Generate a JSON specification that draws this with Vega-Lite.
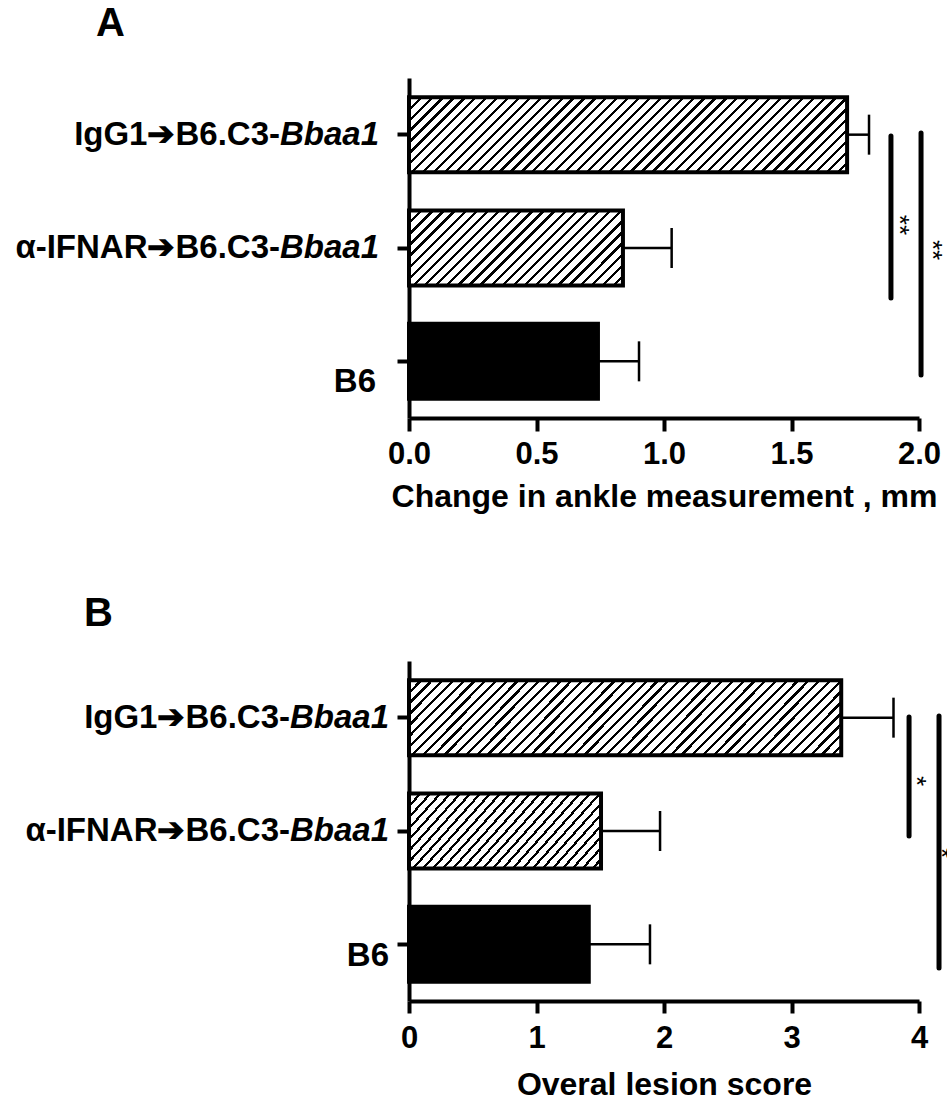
{
"$schema":"https://vega.github.io/schema/vega-lite/v6.json",
"padding":{"left":15,"top":4,"right":0,"bottom":2},
"spacing":82,
"background":"white",
"config":{"view":{"stroke":null},"font":"Liberation Sans",
"axis":{"domainColor":"black","domainWidth":4,"tickColor":"black","tickWidth":4,"labelColor":"black","labelFont":"Liberation Sans","labelFontSize":31,"labelFontWeight":"bold","titleFont":"Liberation Sans","titleFontSize":32,"titleFontWeight":"bold","titleColor":"black","grid":false,"labelFlush":false,"labelOverlap":false}},
"datasets":{"labels":[{"g":"IgG1","pre":"IgG1➔B6.C3-","it":"Bbaa1"},{"g":"aIFNAR","pre":"α-IFNAR➔B6.C3-","it":"Bbaa1"},{"g":"B6","pre":"B6","it":""}]},
"vconcat":[
{"title":{"text":"A","anchor":"start","frame":"group","dx":-313,"fontSize":40,"fontWeight":"bold","font":"Liberation Sans","color":"black","baseline":"alphabetic","offset":2},
"width":510,"height":340,
"data":{"values":[{"g":"IgG1","mean":1.718,"hi":1.804},{"g":"aIFNAR","mean":0.839,"hi":1.03},{"g":"B6","mean":0.741,"hi":0.902}]},
"resolve":{"scale":{"y":"independent"}},
"layer":[
{"encoding":{"y":{"field":"g","type":"nominal","sort":["IgG1","aIFNAR","B6"],"scale":{"domain":["IgG1","aIFNAR","B6"],"paddingInner":0.338,"paddingOuter":0.169},"axis":{"title":null,"labels":false,"tickSize":12}}},
"layer":[
{"transform":[{"filter":"datum.g==='IgG1'"}],"mark":{"type":"bar","stroke":"black","strokeWidth":4,"fill":{"gradient":"linear","x1":0,"y1":0,"x2":1.1379,"y2":0.1948,"stops":[{"offset":0,"color":"#000"},{"offset":0.0064,"color":"#000"},{"offset":0.0064,"color":"#fff"},{"offset":0.0213,"color":"#fff"},{"offset":0.0213,"color":"#000"},{"offset":0.0277,"color":"#000"},{"offset":0.0277,"color":"#fff"},{"offset":0.0426,"color":"#fff"},{"offset":0.0426,"color":"#000"},{"offset":0.049,"color":"#000"},{"offset":0.049,"color":"#fff"},{"offset":0.0638,"color":"#fff"},{"offset":0.0638,"color":"#000"},{"offset":0.0702,"color":"#000"},{"offset":0.0702,"color":"#fff"},{"offset":0.0851,"color":"#fff"},{"offset":0.0851,"color":"#000"},{"offset":0.0915,"color":"#000"},{"offset":0.0915,"color":"#fff"},{"offset":0.1064,"color":"#fff"},{"offset":0.1064,"color":"#000"},{"offset":0.1128,"color":"#000"},{"offset":0.1128,"color":"#fff"},{"offset":0.1277,"color":"#fff"},{"offset":0.1277,"color":"#000"},{"offset":0.1341,"color":"#000"},{"offset":0.1341,"color":"#fff"},{"offset":0.1489,"color":"#fff"},{"offset":0.1489,"color":"#000"},{"offset":0.1553,"color":"#000"},{"offset":0.1553,"color":"#fff"},{"offset":0.1702,"color":"#fff"},{"offset":0.1702,"color":"#000"},{"offset":0.1766,"color":"#000"},{"offset":0.1766,"color":"#fff"},{"offset":0.1915,"color":"#fff"},{"offset":0.1915,"color":"#000"},{"offset":0.1979,"color":"#000"},{"offset":0.1979,"color":"#fff"},{"offset":0.2128,"color":"#fff"},{"offset":0.2128,"color":"#000"},{"offset":0.2192,"color":"#000"},{"offset":0.2192,"color":"#fff"},{"offset":0.234,"color":"#fff"},{"offset":0.234,"color":"#000"},{"offset":0.2404,"color":"#000"},{"offset":0.2404,"color":"#fff"},{"offset":0.2553,"color":"#fff"},{"offset":0.2553,"color":"#000"},{"offset":0.2617,"color":"#000"},{"offset":0.2617,"color":"#fff"},{"offset":0.2766,"color":"#fff"},{"offset":0.2766,"color":"#000"},{"offset":0.283,"color":"#000"},{"offset":0.283,"color":"#fff"},{"offset":0.2979,"color":"#fff"},{"offset":0.2979,"color":"#000"},{"offset":0.3043,"color":"#000"},{"offset":0.3043,"color":"#fff"},{"offset":0.3191,"color":"#fff"},{"offset":0.3191,"color":"#000"},{"offset":0.3255,"color":"#000"},{"offset":0.3255,"color":"#fff"},{"offset":0.3404,"color":"#fff"},{"offset":0.3404,"color":"#000"},{"offset":0.3468,"color":"#000"},{"offset":0.3468,"color":"#fff"},{"offset":0.3617,"color":"#fff"},{"offset":0.3617,"color":"#000"},{"offset":0.3681,"color":"#000"},{"offset":0.3681,"color":"#fff"},{"offset":0.383,"color":"#fff"},{"offset":0.383,"color":"#000"},{"offset":0.3894,"color":"#000"},{"offset":0.3894,"color":"#fff"},{"offset":0.4043,"color":"#fff"},{"offset":0.4043,"color":"#000"},{"offset":0.4107,"color":"#000"},{"offset":0.4107,"color":"#fff"},{"offset":0.4255,"color":"#fff"},{"offset":0.4255,"color":"#000"},{"offset":0.4319,"color":"#000"},{"offset":0.4319,"color":"#fff"},{"offset":0.4468,"color":"#fff"},{"offset":0.4468,"color":"#000"},{"offset":0.4532,"color":"#000"},{"offset":0.4532,"color":"#fff"},{"offset":0.4681,"color":"#fff"},{"offset":0.4681,"color":"#000"},{"offset":0.4745,"color":"#000"},{"offset":0.4745,"color":"#fff"},{"offset":0.4894,"color":"#fff"},{"offset":0.4894,"color":"#000"},{"offset":0.4958,"color":"#000"},{"offset":0.4958,"color":"#fff"},{"offset":0.5106,"color":"#fff"},{"offset":0.5106,"color":"#000"},{"offset":0.517,"color":"#000"},{"offset":0.517,"color":"#fff"},{"offset":0.5319,"color":"#fff"},{"offset":0.5319,"color":"#000"},{"offset":0.5383,"color":"#000"},{"offset":0.5383,"color":"#fff"},{"offset":0.5532,"color":"#fff"},{"offset":0.5532,"color":"#000"},{"offset":0.5596,"color":"#000"},{"offset":0.5596,"color":"#fff"},{"offset":0.5745,"color":"#fff"},{"offset":0.5745,"color":"#000"},{"offset":0.5809,"color":"#000"},{"offset":0.5809,"color":"#fff"},{"offset":0.5957,"color":"#fff"},{"offset":0.5957,"color":"#000"},{"offset":0.6021,"color":"#000"},{"offset":0.6021,"color":"#fff"},{"offset":0.617,"color":"#fff"},{"offset":0.617,"color":"#000"},{"offset":0.6234,"color":"#000"},{"offset":0.6234,"color":"#fff"},{"offset":0.6383,"color":"#fff"},{"offset":0.6383,"color":"#000"},{"offset":0.6447,"color":"#000"},{"offset":0.6447,"color":"#fff"},{"offset":0.6596,"color":"#fff"},{"offset":0.6596,"color":"#000"},{"offset":0.666,"color":"#000"},{"offset":0.666,"color":"#fff"},{"offset":0.6809,"color":"#fff"},{"offset":0.6809,"color":"#000"},{"offset":0.6873,"color":"#000"},{"offset":0.6873,"color":"#fff"},{"offset":0.7021,"color":"#fff"},{"offset":0.7021,"color":"#000"},{"offset":0.7085,"color":"#000"},{"offset":0.7085,"color":"#fff"},{"offset":0.7234,"color":"#fff"},{"offset":0.7234,"color":"#000"},{"offset":0.7298,"color":"#000"},{"offset":0.7298,"color":"#fff"},{"offset":0.7447,"color":"#fff"},{"offset":0.7447,"color":"#000"},{"offset":0.7511,"color":"#000"},{"offset":0.7511,"color":"#fff"},{"offset":0.766,"color":"#fff"},{"offset":0.766,"color":"#000"},{"offset":0.7724,"color":"#000"},{"offset":0.7724,"color":"#fff"},{"offset":0.7872,"color":"#fff"},{"offset":0.7872,"color":"#000"},{"offset":0.7936,"color":"#000"},{"offset":0.7936,"color":"#fff"},{"offset":0.8085,"color":"#fff"},{"offset":0.8085,"color":"#000"},{"offset":0.8149,"color":"#000"},{"offset":0.8149,"color":"#fff"},{"offset":0.8298,"color":"#fff"},{"offset":0.8298,"color":"#000"},{"offset":0.8362,"color":"#000"},{"offset":0.8362,"color":"#fff"},{"offset":0.8511,"color":"#fff"},{"offset":0.8511,"color":"#000"},{"offset":0.8575,"color":"#000"},{"offset":0.8575,"color":"#fff"},{"offset":0.8723,"color":"#fff"},{"offset":0.8723,"color":"#000"},{"offset":0.8787,"color":"#000"},{"offset":0.8787,"color":"#fff"},{"offset":0.8936,"color":"#fff"},{"offset":0.8936,"color":"#000"},{"offset":0.9,"color":"#000"},{"offset":0.9,"color":"#fff"},{"offset":0.9149,"color":"#fff"},{"offset":0.9149,"color":"#000"},{"offset":0.9213,"color":"#000"},{"offset":0.9213,"color":"#fff"},{"offset":0.9362,"color":"#fff"},{"offset":0.9362,"color":"#000"},{"offset":0.9426,"color":"#000"},{"offset":0.9426,"color":"#fff"},{"offset":0.9574,"color":"#fff"},{"offset":0.9574,"color":"#000"},{"offset":0.9638,"color":"#000"},{"offset":0.9638,"color":"#fff"},{"offset":0.9787,"color":"#fff"},{"offset":0.9787,"color":"#000"},{"offset":0.9851,"color":"#000"},{"offset":0.9851,"color":"#fff"},{"offset":1,"color":"#fff"}]}},
"encoding":{"x":{"field":"mean","type":"quantitative","scale":{"domain":[0,2],"nice":false},"axis":{"values":[0,0.5,1,1.5,2],"format":".1f","title":"Change in ankle measurement , mm","tickSize":13,"labelPadding":8,"titlePadding":12}}}},
{"transform":[{"filter":"datum.g==='aIFNAR'"}],"mark":{"type":"bar","stroke":"black","strokeWidth":4,"fill":{"gradient":"linear","x1":0,"y1":0,"x2":1.2027,"y2":0.4215,"stops":[{"offset":0,"color":"#000"},{"offset":0.0115,"color":"#000"},{"offset":0.0115,"color":"#fff"},{"offset":0.0385,"color":"#fff"},{"offset":0.0385,"color":"#000"},{"offset":0.05,"color":"#000"},{"offset":0.05,"color":"#fff"},{"offset":0.0769,"color":"#fff"},{"offset":0.0769,"color":"#000"},{"offset":0.0884,"color":"#000"},{"offset":0.0884,"color":"#fff"},{"offset":0.1154,"color":"#fff"},{"offset":0.1154,"color":"#000"},{"offset":0.1269,"color":"#000"},{"offset":0.1269,"color":"#fff"},{"offset":0.1538,"color":"#fff"},{"offset":0.1538,"color":"#000"},{"offset":0.1653,"color":"#000"},{"offset":0.1653,"color":"#fff"},{"offset":0.1923,"color":"#fff"},{"offset":0.1923,"color":"#000"},{"offset":0.2038,"color":"#000"},{"offset":0.2038,"color":"#fff"},{"offset":0.2308,"color":"#fff"},{"offset":0.2308,"color":"#000"},{"offset":0.2423,"color":"#000"},{"offset":0.2423,"color":"#fff"},{"offset":0.2692,"color":"#fff"},{"offset":0.2692,"color":"#000"},{"offset":0.2807,"color":"#000"},{"offset":0.2807,"color":"#fff"},{"offset":0.3077,"color":"#fff"},{"offset":0.3077,"color":"#000"},{"offset":0.3192,"color":"#000"},{"offset":0.3192,"color":"#fff"},{"offset":0.3462,"color":"#fff"},{"offset":0.3462,"color":"#000"},{"offset":0.3577,"color":"#000"},{"offset":0.3577,"color":"#fff"},{"offset":0.3846,"color":"#fff"},{"offset":0.3846,"color":"#000"},{"offset":0.3961,"color":"#000"},{"offset":0.3961,"color":"#fff"},{"offset":0.4231,"color":"#fff"},{"offset":0.4231,"color":"#000"},{"offset":0.4346,"color":"#000"},{"offset":0.4346,"color":"#fff"},{"offset":0.4615,"color":"#fff"},{"offset":0.4615,"color":"#000"},{"offset":0.473,"color":"#000"},{"offset":0.473,"color":"#fff"},{"offset":0.5,"color":"#fff"},{"offset":0.5,"color":"#000"},{"offset":0.5115,"color":"#000"},{"offset":0.5115,"color":"#fff"},{"offset":0.5385,"color":"#fff"},{"offset":0.5385,"color":"#000"},{"offset":0.55,"color":"#000"},{"offset":0.55,"color":"#fff"},{"offset":0.5769,"color":"#fff"},{"offset":0.5769,"color":"#000"},{"offset":0.5884,"color":"#000"},{"offset":0.5884,"color":"#fff"},{"offset":0.6154,"color":"#fff"},{"offset":0.6154,"color":"#000"},{"offset":0.6269,"color":"#000"},{"offset":0.6269,"color":"#fff"},{"offset":0.6538,"color":"#fff"},{"offset":0.6538,"color":"#000"},{"offset":0.6653,"color":"#000"},{"offset":0.6653,"color":"#fff"},{"offset":0.6923,"color":"#fff"},{"offset":0.6923,"color":"#000"},{"offset":0.7038,"color":"#000"},{"offset":0.7038,"color":"#fff"},{"offset":0.7308,"color":"#fff"},{"offset":0.7308,"color":"#000"},{"offset":0.7423,"color":"#000"},{"offset":0.7423,"color":"#fff"},{"offset":0.7692,"color":"#fff"},{"offset":0.7692,"color":"#000"},{"offset":0.7807,"color":"#000"},{"offset":0.7807,"color":"#fff"},{"offset":0.8077,"color":"#fff"},{"offset":0.8077,"color":"#000"},{"offset":0.8192,"color":"#000"},{"offset":0.8192,"color":"#fff"},{"offset":0.8462,"color":"#fff"},{"offset":0.8462,"color":"#000"},{"offset":0.8577,"color":"#000"},{"offset":0.8577,"color":"#fff"},{"offset":0.8846,"color":"#fff"},{"offset":0.8846,"color":"#000"},{"offset":0.8961,"color":"#000"},{"offset":0.8961,"color":"#fff"},{"offset":0.9231,"color":"#fff"},{"offset":0.9231,"color":"#000"},{"offset":0.9346,"color":"#000"},{"offset":0.9346,"color":"#fff"},{"offset":0.9615,"color":"#fff"},{"offset":0.9615,"color":"#000"},{"offset":0.973,"color":"#000"},{"offset":0.973,"color":"#fff"},{"offset":1,"color":"#fff"}]}},
"encoding":{"x":{"field":"mean","type":"quantitative"}}},
{"transform":[{"filter":"datum.g==='B6'"}],"mark":{"type":"bar","stroke":"black","strokeWidth":4,"fill":"black"},"encoding":{"x":{"field":"mean","type":"quantitative"}}},
{"mark":{"type":"rule","color":"black","strokeWidth":2.5},"encoding":{"x":{"field":"mean","type":"quantitative"},"x2":{"field":"hi"}}},
{"mark":{"type":"tick","color":"black","size":40,"thickness":2.5,"opacity":1},"encoding":{"x":{"field":"hi","type":"quantitative"}}},
{"data":{"name":"labels"},"transform":[{"filter":"datum.it!==''"}],"mark":{"type":"text","align":"right","baseline":"middle","dx":-30,"font":"Liberation Sans","fontSize":33,"fontWeight":"bold","fontStyle":"italic","color":"black"},"encoding":{"x":{"datum":0},"text":{"field":"it"}}},
{"data":{"name":"labels"},"transform":[{"filter":"datum.it!==''"}],"mark":{"type":"text","align":"right","baseline":"middle","dx":-129,"font":"Liberation Sans","fontSize":33,"fontWeight":"bold","color":"black"},"encoding":{"x":{"datum":0},"text":{"field":"pre"}}},
{"data":{"name":"labels"},"transform":[{"filter":"datum.it===''"}],"mark":{"type":"text","align":"right","baseline":"middle","dx":-33,"dy":21,"font":"Liberation Sans","fontSize":33,"fontWeight":"bold","color":"black"},"encoding":{"x":{"datum":0},"text":{"field":"pre"}}}
]},
{"layer":[
{"data":{"values":[{"x":1.89,"y1":2.488,"y2":1.059},{"x":2.008,"y1":2.515,"y2":0.379}]},"mark":{"type":"rule","color":"black","strokeWidth":5,"strokeCap":"round"},"encoding":{"x":{"field":"x","type":"quantitative"},"y":{"field":"y1","type":"quantitative","scale":{"domain":[0,3],"nice":false,"zero":false},"axis":null},"y2":{"field":"y2"}}},
{"data":{"values":[{"x":1.922,"y":1.703,"t":"**"},{"x":2.051,"y":1.482,"t":"**"}]},"mark":{"type":"text","angle":90,"fontSize":26,"font":"Liberation Sans","align":"center","baseline":"middle","color":"black"},"encoding":{"x":{"field":"x","type":"quantitative"},"y":{"field":"y","type":"quantitative","scale":{"domain":[0,3],"nice":false,"zero":false},"axis":null},"text":{"field":"t"}}}
]}
]},
{"title":{"text":"B","anchor":"start","frame":"group","dx":-325,"fontSize":40,"fontWeight":"bold","font":"Liberation Sans","color":"black","baseline":"alphabetic","offset":-5},
"width":510,"height":340,
"data":{"values":[{"g":"IgG1","mean":3.39,"hi":3.8},{"g":"aIFNAR","mean":1.506,"hi":1.969},{"g":"B6","mean":1.41,"hi":1.89}]},
"resolve":{"scale":{"y":"independent"}},
"layer":[
{"encoding":{"y":{"field":"g","type":"nominal","sort":["IgG1","aIFNAR","B6"],"scale":{"domain":["IgG1","aIFNAR","B6"],"paddingInner":0.338,"paddingOuter":0.169},"axis":{"title":null,"labels":false,"tickSize":12}}},
"layer":[
{"transform":[{"filter":"datum.g==='IgG1'"}],"mark":{"type":"bar","stroke":"black","strokeWidth":4,"fill":{"gradient":"linear","x1":0,"y1":0,"x2":1.1379,"y2":0.1948,"stops":[{"offset":0,"color":"#000"},{"offset":0.0064,"color":"#000"},{"offset":0.0064,"color":"#fff"},{"offset":0.0213,"color":"#fff"},{"offset":0.0213,"color":"#000"},{"offset":0.0277,"color":"#000"},{"offset":0.0277,"color":"#fff"},{"offset":0.0426,"color":"#fff"},{"offset":0.0426,"color":"#000"},{"offset":0.049,"color":"#000"},{"offset":0.049,"color":"#fff"},{"offset":0.0638,"color":"#fff"},{"offset":0.0638,"color":"#000"},{"offset":0.0702,"color":"#000"},{"offset":0.0702,"color":"#fff"},{"offset":0.0851,"color":"#fff"},{"offset":0.0851,"color":"#000"},{"offset":0.0915,"color":"#000"},{"offset":0.0915,"color":"#fff"},{"offset":0.1064,"color":"#fff"},{"offset":0.1064,"color":"#000"},{"offset":0.1128,"color":"#000"},{"offset":0.1128,"color":"#fff"},{"offset":0.1277,"color":"#fff"},{"offset":0.1277,"color":"#000"},{"offset":0.1341,"color":"#000"},{"offset":0.1341,"color":"#fff"},{"offset":0.1489,"color":"#fff"},{"offset":0.1489,"color":"#000"},{"offset":0.1553,"color":"#000"},{"offset":0.1553,"color":"#fff"},{"offset":0.1702,"color":"#fff"},{"offset":0.1702,"color":"#000"},{"offset":0.1766,"color":"#000"},{"offset":0.1766,"color":"#fff"},{"offset":0.1915,"color":"#fff"},{"offset":0.1915,"color":"#000"},{"offset":0.1979,"color":"#000"},{"offset":0.1979,"color":"#fff"},{"offset":0.2128,"color":"#fff"},{"offset":0.2128,"color":"#000"},{"offset":0.2192,"color":"#000"},{"offset":0.2192,"color":"#fff"},{"offset":0.234,"color":"#fff"},{"offset":0.234,"color":"#000"},{"offset":0.2404,"color":"#000"},{"offset":0.2404,"color":"#fff"},{"offset":0.2553,"color":"#fff"},{"offset":0.2553,"color":"#000"},{"offset":0.2617,"color":"#000"},{"offset":0.2617,"color":"#fff"},{"offset":0.2766,"color":"#fff"},{"offset":0.2766,"color":"#000"},{"offset":0.283,"color":"#000"},{"offset":0.283,"color":"#fff"},{"offset":0.2979,"color":"#fff"},{"offset":0.2979,"color":"#000"},{"offset":0.3043,"color":"#000"},{"offset":0.3043,"color":"#fff"},{"offset":0.3191,"color":"#fff"},{"offset":0.3191,"color":"#000"},{"offset":0.3255,"color":"#000"},{"offset":0.3255,"color":"#fff"},{"offset":0.3404,"color":"#fff"},{"offset":0.3404,"color":"#000"},{"offset":0.3468,"color":"#000"},{"offset":0.3468,"color":"#fff"},{"offset":0.3617,"color":"#fff"},{"offset":0.3617,"color":"#000"},{"offset":0.3681,"color":"#000"},{"offset":0.3681,"color":"#fff"},{"offset":0.383,"color":"#fff"},{"offset":0.383,"color":"#000"},{"offset":0.3894,"color":"#000"},{"offset":0.3894,"color":"#fff"},{"offset":0.4043,"color":"#fff"},{"offset":0.4043,"color":"#000"},{"offset":0.4107,"color":"#000"},{"offset":0.4107,"color":"#fff"},{"offset":0.4255,"color":"#fff"},{"offset":0.4255,"color":"#000"},{"offset":0.4319,"color":"#000"},{"offset":0.4319,"color":"#fff"},{"offset":0.4468,"color":"#fff"},{"offset":0.4468,"color":"#000"},{"offset":0.4532,"color":"#000"},{"offset":0.4532,"color":"#fff"},{"offset":0.4681,"color":"#fff"},{"offset":0.4681,"color":"#000"},{"offset":0.4745,"color":"#000"},{"offset":0.4745,"color":"#fff"},{"offset":0.4894,"color":"#fff"},{"offset":0.4894,"color":"#000"},{"offset":0.4958,"color":"#000"},{"offset":0.4958,"color":"#fff"},{"offset":0.5106,"color":"#fff"},{"offset":0.5106,"color":"#000"},{"offset":0.517,"color":"#000"},{"offset":0.517,"color":"#fff"},{"offset":0.5319,"color":"#fff"},{"offset":0.5319,"color":"#000"},{"offset":0.5383,"color":"#000"},{"offset":0.5383,"color":"#fff"},{"offset":0.5532,"color":"#fff"},{"offset":0.5532,"color":"#000"},{"offset":0.5596,"color":"#000"},{"offset":0.5596,"color":"#fff"},{"offset":0.5745,"color":"#fff"},{"offset":0.5745,"color":"#000"},{"offset":0.5809,"color":"#000"},{"offset":0.5809,"color":"#fff"},{"offset":0.5957,"color":"#fff"},{"offset":0.5957,"color":"#000"},{"offset":0.6021,"color":"#000"},{"offset":0.6021,"color":"#fff"},{"offset":0.617,"color":"#fff"},{"offset":0.617,"color":"#000"},{"offset":0.6234,"color":"#000"},{"offset":0.6234,"color":"#fff"},{"offset":0.6383,"color":"#fff"},{"offset":0.6383,"color":"#000"},{"offset":0.6447,"color":"#000"},{"offset":0.6447,"color":"#fff"},{"offset":0.6596,"color":"#fff"},{"offset":0.6596,"color":"#000"},{"offset":0.666,"color":"#000"},{"offset":0.666,"color":"#fff"},{"offset":0.6809,"color":"#fff"},{"offset":0.6809,"color":"#000"},{"offset":0.6873,"color":"#000"},{"offset":0.6873,"color":"#fff"},{"offset":0.7021,"color":"#fff"},{"offset":0.7021,"color":"#000"},{"offset":0.7085,"color":"#000"},{"offset":0.7085,"color":"#fff"},{"offset":0.7234,"color":"#fff"},{"offset":0.7234,"color":"#000"},{"offset":0.7298,"color":"#000"},{"offset":0.7298,"color":"#fff"},{"offset":0.7447,"color":"#fff"},{"offset":0.7447,"color":"#000"},{"offset":0.7511,"color":"#000"},{"offset":0.7511,"color":"#fff"},{"offset":0.766,"color":"#fff"},{"offset":0.766,"color":"#000"},{"offset":0.7724,"color":"#000"},{"offset":0.7724,"color":"#fff"},{"offset":0.7872,"color":"#fff"},{"offset":0.7872,"color":"#000"},{"offset":0.7936,"color":"#000"},{"offset":0.7936,"color":"#fff"},{"offset":0.8085,"color":"#fff"},{"offset":0.8085,"color":"#000"},{"offset":0.8149,"color":"#000"},{"offset":0.8149,"color":"#fff"},{"offset":0.8298,"color":"#fff"},{"offset":0.8298,"color":"#000"},{"offset":0.8362,"color":"#000"},{"offset":0.8362,"color":"#fff"},{"offset":0.8511,"color":"#fff"},{"offset":0.8511,"color":"#000"},{"offset":0.8575,"color":"#000"},{"offset":0.8575,"color":"#fff"},{"offset":0.8723,"color":"#fff"},{"offset":0.8723,"color":"#000"},{"offset":0.8787,"color":"#000"},{"offset":0.8787,"color":"#fff"},{"offset":0.8936,"color":"#fff"},{"offset":0.8936,"color":"#000"},{"offset":0.9,"color":"#000"},{"offset":0.9,"color":"#fff"},{"offset":0.9149,"color":"#fff"},{"offset":0.9149,"color":"#000"},{"offset":0.9213,"color":"#000"},{"offset":0.9213,"color":"#fff"},{"offset":0.9362,"color":"#fff"},{"offset":0.9362,"color":"#000"},{"offset":0.9426,"color":"#000"},{"offset":0.9426,"color":"#fff"},{"offset":0.9574,"color":"#fff"},{"offset":0.9574,"color":"#000"},{"offset":0.9638,"color":"#000"},{"offset":0.9638,"color":"#fff"},{"offset":0.9787,"color":"#fff"},{"offset":0.9787,"color":"#000"},{"offset":0.9851,"color":"#000"},{"offset":0.9851,"color":"#fff"},{"offset":1,"color":"#fff"}]}},
"encoding":{"x":{"field":"mean","type":"quantitative","scale":{"domain":[0,4],"nice":false},"axis":{"values":[0,1,2,3,4],"format":"d","title":"Overal lesion score","tickSize":12,"labelPadding":10,"titlePadding":16}}}},
{"transform":[{"filter":"datum.g==='aIFNAR'"}],"mark":{"type":"bar","stroke":"black","strokeWidth":4,"fill":{"gradient":"linear","x1":0,"y1":0,"x2":1.2027,"y2":0.4215,"stops":[{"offset":0,"color":"#000"},{"offset":0.0115,"color":"#000"},{"offset":0.0115,"color":"#fff"},{"offset":0.0385,"color":"#fff"},{"offset":0.0385,"color":"#000"},{"offset":0.05,"color":"#000"},{"offset":0.05,"color":"#fff"},{"offset":0.0769,"color":"#fff"},{"offset":0.0769,"color":"#000"},{"offset":0.0884,"color":"#000"},{"offset":0.0884,"color":"#fff"},{"offset":0.1154,"color":"#fff"},{"offset":0.1154,"color":"#000"},{"offset":0.1269,"color":"#000"},{"offset":0.1269,"color":"#fff"},{"offset":0.1538,"color":"#fff"},{"offset":0.1538,"color":"#000"},{"offset":0.1653,"color":"#000"},{"offset":0.1653,"color":"#fff"},{"offset":0.1923,"color":"#fff"},{"offset":0.1923,"color":"#000"},{"offset":0.2038,"color":"#000"},{"offset":0.2038,"color":"#fff"},{"offset":0.2308,"color":"#fff"},{"offset":0.2308,"color":"#000"},{"offset":0.2423,"color":"#000"},{"offset":0.2423,"color":"#fff"},{"offset":0.2692,"color":"#fff"},{"offset":0.2692,"color":"#000"},{"offset":0.2807,"color":"#000"},{"offset":0.2807,"color":"#fff"},{"offset":0.3077,"color":"#fff"},{"offset":0.3077,"color":"#000"},{"offset":0.3192,"color":"#000"},{"offset":0.3192,"color":"#fff"},{"offset":0.3462,"color":"#fff"},{"offset":0.3462,"color":"#000"},{"offset":0.3577,"color":"#000"},{"offset":0.3577,"color":"#fff"},{"offset":0.3846,"color":"#fff"},{"offset":0.3846,"color":"#000"},{"offset":0.3961,"color":"#000"},{"offset":0.3961,"color":"#fff"},{"offset":0.4231,"color":"#fff"},{"offset":0.4231,"color":"#000"},{"offset":0.4346,"color":"#000"},{"offset":0.4346,"color":"#fff"},{"offset":0.4615,"color":"#fff"},{"offset":0.4615,"color":"#000"},{"offset":0.473,"color":"#000"},{"offset":0.473,"color":"#fff"},{"offset":0.5,"color":"#fff"},{"offset":0.5,"color":"#000"},{"offset":0.5115,"color":"#000"},{"offset":0.5115,"color":"#fff"},{"offset":0.5385,"color":"#fff"},{"offset":0.5385,"color":"#000"},{"offset":0.55,"color":"#000"},{"offset":0.55,"color":"#fff"},{"offset":0.5769,"color":"#fff"},{"offset":0.5769,"color":"#000"},{"offset":0.5884,"color":"#000"},{"offset":0.5884,"color":"#fff"},{"offset":0.6154,"color":"#fff"},{"offset":0.6154,"color":"#000"},{"offset":0.6269,"color":"#000"},{"offset":0.6269,"color":"#fff"},{"offset":0.6538,"color":"#fff"},{"offset":0.6538,"color":"#000"},{"offset":0.6653,"color":"#000"},{"offset":0.6653,"color":"#fff"},{"offset":0.6923,"color":"#fff"},{"offset":0.6923,"color":"#000"},{"offset":0.7038,"color":"#000"},{"offset":0.7038,"color":"#fff"},{"offset":0.7308,"color":"#fff"},{"offset":0.7308,"color":"#000"},{"offset":0.7423,"color":"#000"},{"offset":0.7423,"color":"#fff"},{"offset":0.7692,"color":"#fff"},{"offset":0.7692,"color":"#000"},{"offset":0.7807,"color":"#000"},{"offset":0.7807,"color":"#fff"},{"offset":0.8077,"color":"#fff"},{"offset":0.8077,"color":"#000"},{"offset":0.8192,"color":"#000"},{"offset":0.8192,"color":"#fff"},{"offset":0.8462,"color":"#fff"},{"offset":0.8462,"color":"#000"},{"offset":0.8577,"color":"#000"},{"offset":0.8577,"color":"#fff"},{"offset":0.8846,"color":"#fff"},{"offset":0.8846,"color":"#000"},{"offset":0.8961,"color":"#000"},{"offset":0.8961,"color":"#fff"},{"offset":0.9231,"color":"#fff"},{"offset":0.9231,"color":"#000"},{"offset":0.9346,"color":"#000"},{"offset":0.9346,"color":"#fff"},{"offset":0.9615,"color":"#fff"},{"offset":0.9615,"color":"#000"},{"offset":0.973,"color":"#000"},{"offset":0.973,"color":"#fff"},{"offset":1,"color":"#fff"}]}},
"encoding":{"x":{"field":"mean","type":"quantitative"}}},
{"transform":[{"filter":"datum.g==='B6'"}],"mark":{"type":"bar","stroke":"black","strokeWidth":4,"fill":"black"},"encoding":{"x":{"field":"mean","type":"quantitative"}}},
{"mark":{"type":"rule","color":"black","strokeWidth":2.5},"encoding":{"x":{"field":"mean","type":"quantitative"},"x2":{"field":"hi"}}},
{"mark":{"type":"tick","color":"black","size":40,"thickness":2.5,"opacity":1},"encoding":{"x":{"field":"hi","type":"quantitative"}}},
{"data":{"name":"labels"},"transform":[{"filter":"datum.it!==''"}],"mark":{"type":"text","align":"right","baseline":"middle","dx":-20,"font":"Liberation Sans","fontSize":33,"fontWeight":"bold","fontStyle":"italic","color":"black"},"encoding":{"x":{"datum":0},"text":{"field":"it"}}},
{"data":{"name":"labels"},"transform":[{"filter":"datum.it!==''"}],"mark":{"type":"text","align":"right","baseline":"middle","dx":-119,"font":"Liberation Sans","fontSize":33,"fontWeight":"bold","color":"black"},"encoding":{"x":{"datum":0},"text":{"field":"pre"}}},
{"data":{"name":"labels"},"transform":[{"filter":"datum.it===''"}],"mark":{"type":"text","align":"right","baseline":"middle","dx":-20,"dy":12,"font":"Liberation Sans","fontSize":33,"fontWeight":"bold","color":"black"},"encoding":{"x":{"datum":0},"text":{"field":"pre"}}}
]},
{"layer":[
{"data":{"values":[{"x":3.922,"y1":2.506,"y2":1.456},{"x":4.157,"y1":2.515,"y2":0.291}]},"mark":{"type":"rule","color":"black","strokeWidth":5,"strokeCap":"round"},"encoding":{"x":{"field":"x","type":"quantitative"},"y":{"field":"y1","type":"quantitative","scale":{"domain":[0,3],"nice":false,"zero":false},"axis":null},"y2":{"field":"y2"}}},
{"data":{"values":[{"x":3.976,"y":1.941,"t":"*"},{"x":4.173,"y":1.306,"t":"*"}]},"mark":{"type":"text","angle":90,"fontSize":26,"font":"Liberation Sans","align":"center","baseline":"middle","color":"black"},"encoding":{"x":{"field":"x","type":"quantitative"},"y":{"field":"y","type":"quantitative","scale":{"domain":[0,3],"nice":false,"zero":false},"axis":null},"text":{"field":"t"}}}
]}
]}
]
}
